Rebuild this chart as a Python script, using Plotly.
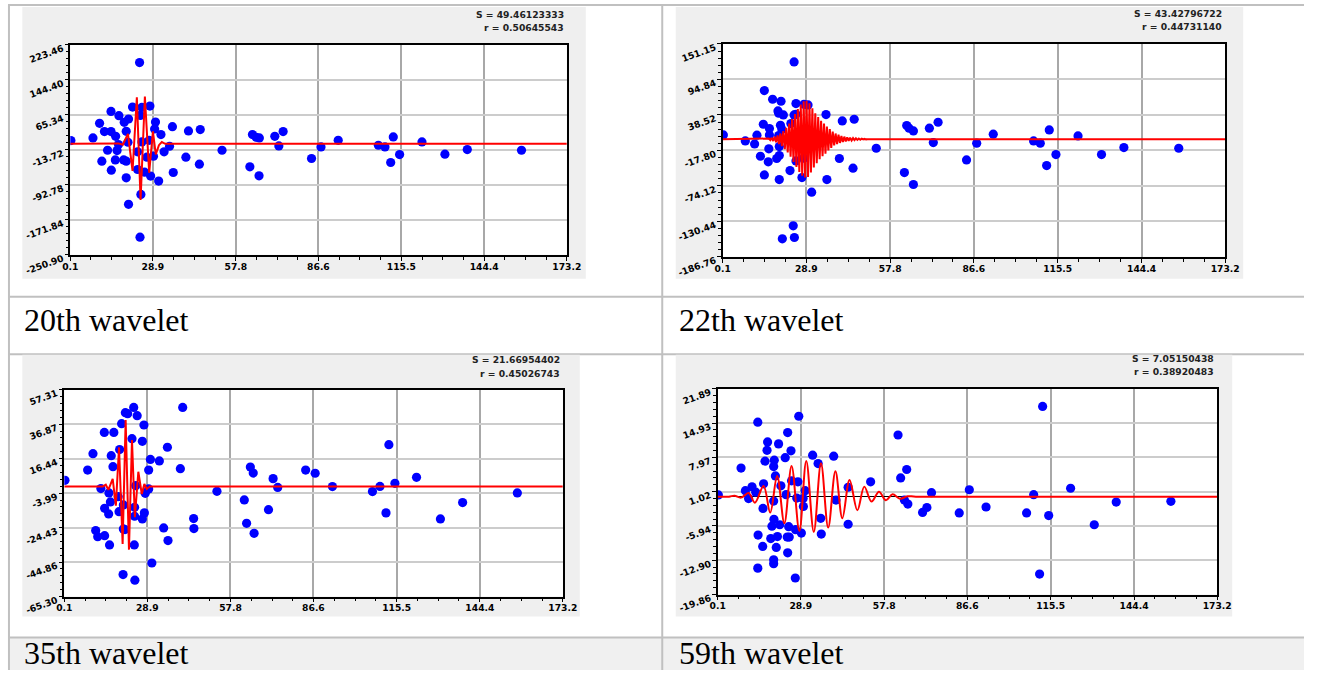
import plotly.graph_objects as go

W, H = 1319, 691
# measured mapping between page pixels and the photographed picture
SX, OX = 0.9835, 7.64
SY, OY = 0.966, 5.0

# ---------------- data ----------------
x_ticks = [0.1, 28.9, 57.8, 86.6, 115.5, 144.4, 173.2]
x_labels = ["0.1", "28.9", "57.8", "86.6", "115.5", "144.4", "173.2"]

captions = ["20th wavelet", "22th wavelet", "35th wavelet", "59th wavelet"]
s_texts = ["S = 49.46123333", "S = 43.42796722", "S = 21.66954402", "S = 7.05150438"]
r_texts = ["r = 0.50645543", "r = 0.44731140", "r = 0.45026743", "r = 0.38920483"]

c1_ylabels = ["-250.90", "-171.84", "-92.78", "-13.72", "65.34", "144.40", "223.46"]
c2_ylabels = ["-186.76", "-130.44", "-74.12", "-17.80", "38.52", "94.84", "151.15"]
c3_ylabels = ["-65.30", "-44.86", "-24.43", "-3.99", "16.44", "36.87", "57.31"]
c4_ylabels = ["-19.86", "-12.90", "-5.94", "1.02", "7.97", "14.93", "21.89"]

# chart 1 (20th wavelet)
c1_x = [0.3, 24.25, 10.3, 8.0, 12.0, 14.3, 14.3, 17.05, 15.9, 13.1, 11.1, 14.4, 15.8, 18.7, 19.6,
        20.4, 24.4, 24.7, 20.4, 18.9, 19.6, 20.2, 16.4, 16.9, 19.6, 21.8, 25.06, 27.85, 24.5, 29.8,
        29.5, 35.7, 41.3, 45.4, 31.7, 27.6, 25.06, 32.8, 34.7, 23.55, 26.8, 29.1, 40.4, 45.1, 36.0,
        26.0, 23.55, 28.1, 30.9, 53.0, 63.6, 64.9, 66.0, 71.4, 74.3, 72.8, 62.7, 65.9, 84.2, 87.5,
        93.5, 107.5, 109.8, 112.7, 114.9, 111.8, 122.7, 130.7, 138.5, 157.4]
c1_y = [7.3, 183.7, 46.3, 13.3, 27.6, 27.6, 73.3, 63.6, 17.0, -14.5, -39.3, -59.5, -36.3, -36.3, -76.8,
        -136.8, -211.1, -114.3, 56.1, 48.6, 28.3, 3.5, -15.2, -1.7, -39.2, 83.1, 82.3, 85.4, 64.3, 49.3,
        33.6, 38.8, 29.1, 32.1, 20.8, 8.0, 4.3, -18.2, -5.5, -18.2, -30.2, -28.0, -30.2, -46.0, -64.8,
        -64.0, -58.0, -73.0, -84.3, -14.5, 20.8, 14.8, 13.3, 17.0, 27.6, -4.7, -52.0, -72.3, -33.2, -7.0,
        8.0, -3.2, -7.0, 15.5, -24.2, -42.2, 4.3, -23.5, -13.0, -14.5]
c1_wave_x = [0.1, 15.2, 16.9, 18.4, 20.2, 21.8, 23.3, 24.6, 26.1, 27.6, 28.9, 29.9, 31.0, 32.0, 33.2, 173.2]
c1_wave_y = [0, 0, 1, -2, 22.5, -61.3, 105, -127, 107, -65.5, 28, -24, -3, 4, 0, 0]

# chart 2 (22th wavelet)
c2_x = [0.33, 24.7, 14.45, 17.3, 20.2, 19.15, 19.4, 21.0, 25.35, 28.1, 29.5, 25.35, 35.7, 41.3, 45.4,
        14.1, 16.2, 16.2, 11.9, 7.9, 11.1, 20.0, 20.5, 19.4, 19.6, 16.0, 13.1, 15.8, 18.7, 19.6,
        14.45, 19.6, 23.3, 27.4, 24.7, 23.6, 25.35, 28.0, 30.75, 36.0, 40.3, 45.0, 53.0, 62.7, 65.8,
        63.5, 64.3, 65.8, 71.3, 74.3, 72.65, 84.1, 87.6, 24.4, 20.65, 24.8,
        93.3, 107.2, 109.5, 112.6, 114.9, 111.7, 122.5, 130.6, 138.3, 157.2]
c2_y = [6.8, 122.6, 77.1, 63.4, 60.2, 44.9, 41.2, 38.5, 56.5, 55.4, 54.4, 39.6, 39.1, 29.0, 31.6,
        23.7, 16.8, 6.8, 6.3, -2.7, -7.5, 22.1, 15.3, 5.7, -11.7, -15.4, -27.1, -36.0, -30.7, -26.0,
        -56.7, -64.1, -49.8, -60.9, 38.5, 24.8, -34.5, -30.2, -84.2, -64.1, -30.7, -46.1, -14.4, -53.0, -72.0,
        21.6, 17.4, 13.1, 17.4, 26.9, -5.4, -32.9, -6.4, -137.6, -158.2, -156.1,
        7.9, -2.7, -6.4, 14.7, -24.4, -41.9, 5.2, -24.4, -13.3, -14.4]
c2_wave_x = [0.1, 15.5,
             16.0, 16.5, 17.0, 17.5, 18.0, 18.5, 19.0, 19.5, 20.0, 20.5,
             21.0, 21.5, 22.0, 22.5, 23.0, 23.5, 24.0, 24.5, 25.0, 25.5,
             26.0, 26.5, 27.0, 27.5, 28.0, 28.5, 29.0, 29.5, 30.0, 30.5,
             31.0, 31.5, 32.0, 32.5, 33.0, 33.5, 34.0, 34.5, 35.0, 35.5,
             36.0, 36.5, 37.0, 37.5, 38.0, 38.5, 39.0, 39.5, 40.0, 40.5,
             41.0, 41.5, 42.0, 42.5, 43.0, 43.5, 44.0, 44.5, 45.0, 45.5,
             46.0, 46.5, 47.0, 47.5, 48.0, 48.5, 49.0, 49.5,
             50.0, 173.2]
c2_wave_y = [0, 0,
             1, -1.5, 2, -3, 4, -5, 6, -8, 9, -11,
             13, -16, 18, -21, 25, -28, 32, -36, 40, -44,
             48, -52, 55, -58, 60, -61, 61, -60, 57, -53,
             49, -45, 41, -38, 35, -32, 29, -27, 25, -23,
             20, -18, 16, -14, 12, -10, 9, -8, 7, -6,
             5, -4.5, 4, -3.5, 3, -2.5, 2.2, -2, 1.7, -1.5,
             1.3, -1.1, 1, -0.8, 0.7, -0.5, 0.4, -0.3,
             0, 0]

# chart 3 (35th wavelet)
c3_x = [0.33, 8.2, 10.05, 14.0, 17.3, 16.4, 17.0, 19.3, 20.0, 21.3, 22.1, 24.2, 25.4, 27.75, 23.6,
        27.2, 30.0, 33.1, 35.9, 29.4, 40.4, 41.2, 12.8, 15.6, 16.1, 14.1, 15.5, 11.0, 11.7, 14.1,
        15.8, 18.8, 19.1, 20.6, 20.6, 21.2, 24.4, 20.5, 24.6, 30.5, 34.6, 36.1, 24.5, 24.5, 27.2,
        27.9, 28.2, 29.4, 24.9, 45.0, 45.1, 53.1, 62.6, 63.4, 66.0, 64.7, 65.7, 71.0, 72.6, 74.2,
        83.9, 87.2, 93.2, 107.1, 109.7, 112.8, 114.9, 111.8, 122.4, 130.7, 138.4, 157.4]
c3_y = [3.6, 9.7, 19.4, 32.0, 32.0, 18.2, 11.7, 21.8, 37.2, 43.7, 43.1, 46.8, 41.9, 36.4, 28.3,
        26.7, 16.0, 15.1, 23.2, 9.7, 10.5, 46.8, -1.3, -3.9, -9.2, -13.0, -16.3, -26.2, -29.8, -29.2,
        -34.7, -6.1, -15.0, -11.0, -25.2, -25.6, -34.7, -52.3, -55.6, -45.4, -24.6, -32.1, -12.4, -17.7, -19.3,
        -15.7, -4.1, -1.5, 0.4, -19.1, -25.0, -2.9, -8.0, -21.9, -27.8, 11.5, 7.9, -13.8, 4.6, -0.6,
        9.7, 7.8, -0.1, -3.1, 0.0, 24.7, 1.8, -15.7, 5.4, -19.3, -9.6, -3.9]
c3_wave_x = [0.1, 13.5, 14.5, 15.4, 16.9, 18.0, 19.1, 20.35, 21.4, 22.55, 23.6, 24.6, 25.8, 27.0,
             27.9, 28.7, 29.8, 173.2]
c3_wave_y = [0, 0, 1.0, -2.0, 4.4, -11.4, 23.1, -34.1, 39.3, -37.5, 27.5, -18.3, 8.7, -4.5,
             1.4, -1.5, 0, 0]

# chart 4 (59th wavelet)
c4_x = [0.33, 8.2, 14.0, 17.4, 17.2, 16.5, 21.2, 24.35, 25.5, 23.5, 19.7, 19.5, 20.1, 28.2, 33.0,
        34.9, 40.3, 16.0, 12.0, 9.7, 10.8, 13.3, 22.0, 23.8, 25.7, 27.9, 30.4, 27.5, 29.7, 29.8,
        19.5, 15.8, 19.6, 18.9, 21.6, 24.7, 27.1, 29.1, 14.1, 18.5, 20.8, 24.2, 24.9, 15.7, 20.4,
        24.35, 19.5, 19.5, 14.0, 27.0, 35.8, 36.0, 41.1, 45.3, 45.3, 53.1, 62.6, 63.5, 65.6, 64.8,
        66.0, 71.1, 72.6, 74.2, 83.8, 87.3, 93.1, 107.15, 109.6, 112.7, 114.8, 111.65, 122.4, 130.6,
        138.2, 157.15]
c4_y = [0.34, 5.8, 15.1, 11.1, 9.4, 7.2, 10.7, 13.0, 9.3, 7.9, 7.4, 6.1, 4.2, 16.3, 8.4,
        6.7, 8.2, 2.6, 2.0, 1.2, -0.4, 0.9, 2.2, 0.4, 3.2, 3.0, 1.2, -0.3, -0.4, -2.0,
        -0.9, -2.4, -4.6, -6.0, -5.7, -6.1, -6.7, -7.4, -7.8, -8.5, -8.1, -8.2, -8.2, -10.1, -10.3,
        -11.4, -12.8, -13.6, -14.5, -16.5, -4.4, -7.6, -0.7, 1.9, -5.6, 3.0, 12.5, 3.8, 5.5, -0.7,
        -1.5, -3.2, -2.2, 0.8, -3.3, 1.4, -2.1, -3.3, 0.4, 18.3, -3.85, -15.7, 1.7, -5.7,
        -1.1, -0.95]
c4_wave_x = [0.1, 4.0, 5.9, 8.2, 10.8, 13.0, 16.0, 18.3, 20.7, 23.2, 25.7, 28.4, 30.8, 33.4, 35.9,
             38.4, 40.9, 43.3, 45.8, 48.5, 50.9, 53.4, 56.0, 58.4, 60.7, 63.3, 65.9, 68.8, 173.2]
c4_wave_y = [0, 0, 0.2, -0.2, 0.74, -1.22, 2.16, -3.24, 4.19, -5.40, 6.22, -6.96, 7.23, -7.16, 6.76,
             -6.28, 5.13, -4.39, 3.38, -2.77, 2.03, -1.01, 1.01, -0.74, 0.47, -0.41, 0.07, 0, 0]

charts = [
    (c1_x, c1_y, c1_wave_x, c1_wave_y, c1_ylabels, "linear"),
    (c2_x, c2_y, c2_wave_x, c2_wave_y, c2_ylabels, "linear"),
    (c3_x, c3_y, c3_wave_x, c3_wave_y, c3_ylabels, "linear"),
    (c4_x, c4_y, c4_wave_x, c4_wave_y, c4_ylabels, "spline"),
]

# ---------------- layout (reference pixels) ----------------
panels = [
    dict(bg=(22, 9, 586, 281), plot=(70, 47, 567, 257), s=(566, 16.5), r=(566, 30), cap=(22, 322)),
    dict(bg=(676, 9, 1244, 281), plot=(723, 46, 1226, 259), s=(1225, 16), r=(1225, 29), cap=(677, 322)),
    dict(bg=(22, 357, 580, 619), plot=(64, 392, 563, 599), s=(562, 362), r=(562, 376), cap=(22, 655)),
    dict(bg=(676, 357, 1233, 619), plot=(718, 391, 1218, 597), s=(1217, 361), r=(1217, 374), cap=(677, 655)),
]


def px(x):
    return max(0.0, (x - OX) / SX) / W


def py(y):
    return 1 - max(0.0, (y - OY) / SY) / H


fig = go.Figure()
shapes = []
annotations = []

# table background & lines
shapes.append(dict(type="rect", xref="paper", yref="paper", x0=px(7), x1=1, y0=0, y1=py(640),
                   fillcolor="#f0f0f0", line=dict(width=0), layer="below"))
line_col = "#c0c0c0"
for yy in [7, 299, 356.5, 640]:
    shapes.append(dict(type="line", xref="paper", yref="paper", x0=px(7), x1=1, y0=py(yy), y1=py(yy),
                       line=dict(color=line_col, width=2), layer="below"))
for xx in [8.6, 662.5]:
    shapes.append(dict(type="line", xref="paper", yref="paper", x0=px(xx), x1=px(xx), y0=0, y1=py(7),
                       line=dict(color=line_col, width=2), layer="below"))

tickfont = dict(family="DejaVu Sans", size=9.2, color="black", weight="bold")

for i, ((xs, ys, wx, wy, ylabels, shape), p) in enumerate(zip(charts, panels)):
    n = i + 1
    xa = "x" if n == 1 else f"x{n}"
    ya = "y" if n == 1 else f"y{n}"
    bx0, by0, bx1, by1 = p["bg"]
    lx0, ly0, lx1, ly1 = p["plot"]
    shapes.append(dict(type="rect", xref="paper", yref="paper", x0=px(bx0), x1=px(bx1),
                       y0=py(by1), y1=py(by0), fillcolor="#efefef", line=dict(width=0), layer="below"))
    shapes.append(dict(type="rect", xref="paper", yref="paper", x0=px(lx0), x1=px(lx1),
                       y0=py(ly1), y1=py(ly0), fillcolor="white", line=dict(width=0), layer="below"))

    yvals = [float(v) for v in ylabels]
    ystep = (yvals[-1] - yvals[0]) / 6
    yminor = [yvals[0] + k * ystep / 5 for k in range(31) if k % 5]
    xstep = (x_ticks[-1] - x_ticks[0]) / 6
    xminor = [x_ticks[0] + k * xstep / 4 for k in range(25) if k % 4]

    fig.add_trace(go.Scatter(x=xs, y=ys, mode="markers", xaxis=xa, yaxis=ya,
                             marker=dict(color="#0000ff", size=9.2, line=dict(width=0)),
                             showlegend=False, hoverinfo="skip"))
    fig.add_trace(go.Scatter(x=wx, y=wy, mode="lines", xaxis=xa, yaxis=ya,
                             line=dict(color="#ff0000", width=2, shape=shape),
                             showlegend=False, hoverinfo="skip"))

    xkey = "xaxis" if n == 1 else f"xaxis{n}"
    ykey = "yaxis" if n == 1 else f"yaxis{n}"
    fig.layout[xkey] = dict(
        domain=[px(lx0), px(lx1)], anchor=ya, range=[x_ticks[0], x_ticks[-1]],
        tickmode="array", tickvals=x_ticks, ticktext=x_labels, tickfont=tickfont,
        ticks="outside", ticklen=4, tickcolor="black", tickwidth=1, ticklabelstandoff=-2,
        showline=True, linecolor="black", linewidth=1.5, mirror=True,
        showgrid=True, gridcolor="#a8a8a8", gridwidth=1.5, zeroline=False,
        minor=dict(tickmode="array", tickvals=xminor, ticks="outside", ticklen=3,
                   tickcolor="black", showgrid=False),
    )
    fig.layout[ykey] = dict(
        domain=[py(ly1), py(ly0)], anchor=xa, range=[yvals[0], yvals[-1]],
        tickmode="array", tickvals=yvals, ticktext=ylabels, tickfont=tickfont, tickangle=-20,
        ticks="outside", ticklen=4, tickcolor="black", tickwidth=1, ticklabelshift=3,
        showline=True, linecolor="black", linewidth=1.5, mirror=True,
        showgrid=True, gridcolor="#cccccc", gridwidth=1.5,
        zeroline=(n == 4), zerolinecolor="black", zerolinewidth=1,
        minor=dict(tickmode="array", tickvals=yminor, ticks="outside", ticklen=3,
                   tickcolor="black", showgrid=False),
    )

    for key, txt in (("s", s_texts[i]), ("r", r_texts[i])):
        ax_, ay_ = p[key]
        annotations.append(dict(xref="paper", yref="paper", x=px(ax_), y=py(ay_), text=txt,
                                showarrow=False, xanchor="right", yanchor="middle",
                                font=dict(family="DejaVu Sans", size=9.2, color="#222222", weight="bold")))
    cx, cy = p["cap"]
    annotations.append(dict(xref="paper", yref="paper", x=px(cx), y=py(cy), text=captions[i],
                            showarrow=False, xanchor="left", yanchor="middle",
                            font=dict(family="Liberation Serif", size=32, color="black")))

fig.update_layout(
    width=W, height=H, margin=dict(l=0, r=0, t=0, b=0),
    paper_bgcolor="white", plot_bgcolor="rgba(0,0,0,0)",
    shapes=shapes, annotations=annotations, showlegend=False,
)

fig.write_html("out.html", config={"displayModeBar": False},
               post_script="document.body.style.margin='0';document.body.style.overflow='hidden';")
